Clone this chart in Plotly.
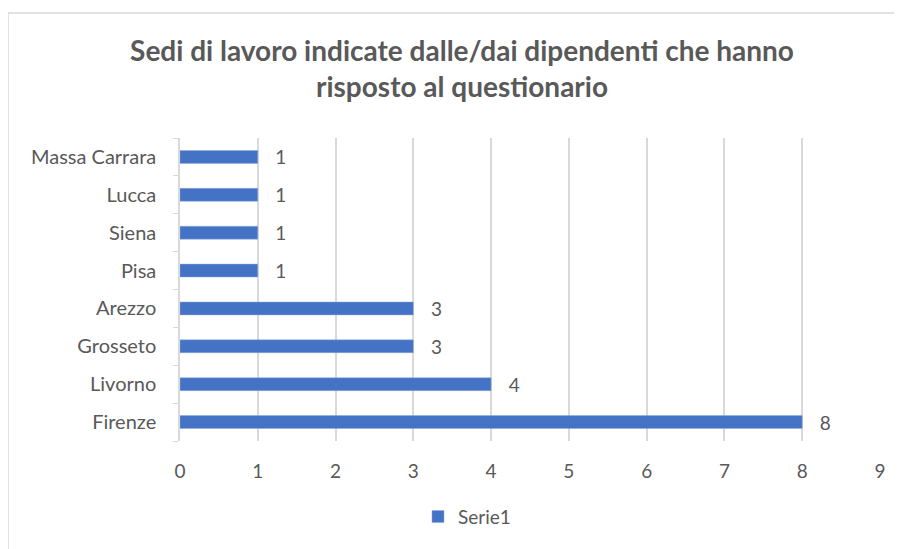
import plotly.graph_objects as go

sedi = ["Firenze", "Livorno", "Grosseto", "Arezzo", "Pisa", "Siena", "Lucca", "Massa Carrara"]
risposte = [8, 4, 3, 3, 1, 1, 1, 1]
x_ticks = [0, 1, 2, 3, 4, 5, 6, 7, 8, 9]

bar_color = "#4472C4"
text_color = "#595959"
grid_color = "#D9D9D9"
font_family = "Lato, 'Liberation Sans', sans-serif"

fig = go.Figure()

fig.add_trace(
    go.Bar(
        x=risposte,
        y=sedi,
        orientation="h",
        name="Serie1",
        marker=dict(color=bar_color, line=dict(color="#8FAADC", width=0.5)),
        text=risposte,
        texttemplate="\u00a0\u00a0\u00a0%{x}",
        textposition="outside",
        constraintext="none",
        textfont=dict(size=19, color=text_color),
        cliponaxis=False,
    )
)

# the page adds an 8px body margin, so margins are shifted by 8px
fig.update_layout(
    width=902,
    height=549,
    plot_bgcolor="white",
    paper_bgcolor="white",
    font=dict(family=font_family, color=text_color, size=19),
    title=dict(
        text="<b>Sedi di lavoro indicate dalle/dai dipendenti che hanno<br>risposto al questionario</b>",
        x=(462 - 8) / 902,
        xanchor="center",
        xref="container",
        y=1 - 53 / 549,
        yanchor="top",
        yref="container",
        font=dict(size=28, color=text_color, family=font_family),
    ),
    bargap=0.66,
    showlegend=True,
    legend=dict(
        orientation="h",
        x=0.41,
        xanchor="center",
        y=-0.25,
        yanchor="middle",
        font=dict(size=19, color=text_color),
    ),
    margin=dict(l=172, r=30, t=130, b=116),
    shapes=[
        dict(
            type="rect",
            xref="paper",
            yref="paper",
            x0=-172 / 700,
            x1=1.2,
            y0=-0.6,
            y1=(433 - 5) / 303,
            line=dict(color=grid_color, width=1.5),
            fillcolor="rgba(0,0,0,0)",
            layer="below",
        )
    ],
)

fig.update_xaxes(
    range=[0, 9],
    tickvals=x_ticks,
    showgrid=True,
    gridcolor=grid_color,
    gridwidth=1.5,
    zeroline=False,
    showline=False,
    ticks="",
    ticklabelstandoff=17,
    tickfont=dict(size=19, color=text_color),
    fixedrange=True,
)

fig.update_yaxes(
    type="category",
    categoryorder="array",
    categoryarray=sedi,
    showline=True,
    linecolor=grid_color,
    linewidth=1.5,
    ticks="outside",
    tickson="boundaries",
    ticklen=5,
    tickcolor=grid_color,
    ticklabelstandoff=18,
    tickfont=dict(size=20, color=text_color),
    showgrid=False,
    fixedrange=True,
)

fig.write_html("out.html")
